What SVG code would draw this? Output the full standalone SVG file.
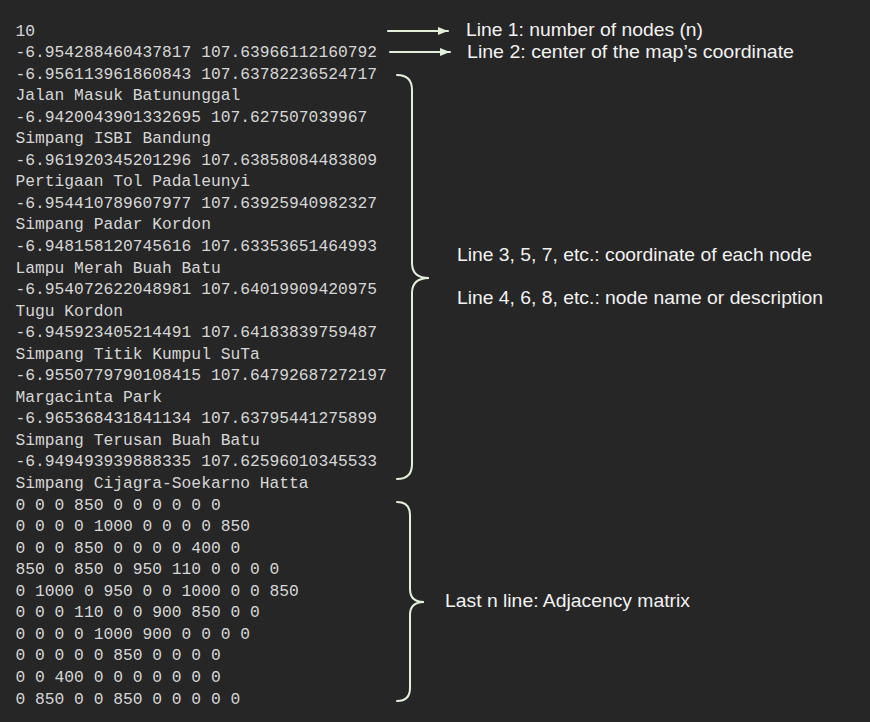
<svg xmlns="http://www.w3.org/2000/svg" width="870" height="722" viewBox="0 0 870 722">
<style>
.code{font-family:"Liberation Mono","DejaVu Sans Mono",monospace;font-size:16.3px;fill:#d6d6d6}
.note{font-family:"Liberation Sans","Open Sans",sans-serif;font-size:18.5px;fill:#f2f2f2}
.ln{fill:none;stroke:#e2f0d9;stroke-width:2;stroke-linecap:round}
</style>
<defs>
<marker id="ah" viewBox="0 0 10 8" refX="10" refY="4" markerWidth="10" markerHeight="8" markerUnits="userSpaceOnUse" orient="auto">
<path d="M0,0 L10,4 L0,8 Z" fill="#e2f0d9"/>
</marker>
</defs>
<rect width="870" height="722" fill="#262626"/>
<g id="file-text">
<text class="code" x="15.5" y="35.5">
<tspan x="15.5" dy="0">10</tspan>
<tspan x="15.5" dy="21.55">-6.954288460437817 107.63966112160792</tspan>
<tspan x="15.5" dy="21.55">-6.956113961860843 107.63782236524717</tspan>
<tspan x="15.5" dy="21.55">Jalan Masuk Batununggal</tspan>
<tspan x="15.5" dy="21.55">-6.9420043901332695 107.627507039967</tspan>
<tspan x="15.5" dy="21.55">Simpang ISBI Bandung</tspan>
<tspan x="15.5" dy="21.55">-6.961920345201296 107.63858084483809</tspan>
<tspan x="15.5" dy="21.55">Pertigaan Tol Padaleunyi</tspan>
<tspan x="15.5" dy="21.55">-6.954410789607977 107.63925940982327</tspan>
<tspan x="15.5" dy="21.55">Simpang Padar Kordon</tspan>
<tspan x="15.5" dy="21.55">-6.948158120745616 107.63353651464993</tspan>
<tspan x="15.5" dy="21.55">Lampu Merah Buah Batu</tspan>
<tspan x="15.5" dy="21.55">-6.954072622048981 107.64019909420975</tspan>
<tspan x="15.5" dy="21.55">Tugu Kordon</tspan>
<tspan x="15.5" dy="21.55">-6.945923405214491 107.64183839759487</tspan>
<tspan x="15.5" dy="21.55">Simpang Titik Kumpul SuTa</tspan>
<tspan x="15.5" dy="21.55">-6.9550779790108415 107.64792687272197</tspan>
<tspan x="15.5" dy="21.55">Margacinta Park</tspan>
<tspan x="15.5" dy="21.55">-6.965368431841134 107.63795441275899</tspan>
<tspan x="15.5" dy="21.55">Simpang Terusan Buah Batu</tspan>
<tspan x="15.5" dy="21.55">-6.949493939888335 107.62596010345533</tspan>
<tspan x="15.5" dy="21.55">Simpang Cijagra-Soekarno Hatta</tspan>
<tspan x="15.5" dy="21.55">0 0 0 850 0 0 0 0 0 0</tspan>
<tspan x="15.5" dy="21.55">0 0 0 0 1000 0 0 0 0 850</tspan>
<tspan x="15.5" dy="21.55">0 0 0 850 0 0 0 0 400 0</tspan>
<tspan x="15.5" dy="21.55">850 0 850 0 950 110 0 0 0 0</tspan>
<tspan x="15.5" dy="21.55">0 1000 0 950 0 0 1000 0 0 850</tspan>
<tspan x="15.5" dy="21.55">0 0 0 110 0 0 900 850 0 0</tspan>
<tspan x="15.5" dy="21.55">0 0 0 0 1000 900 0 0 0 0</tspan>
<tspan x="15.5" dy="21.55">0 0 0 0 0 850 0 0 0 0</tspan>
<tspan x="15.5" dy="21.55">0 0 400 0 0 0 0 0 0 0</tspan>
<tspan x="15.5" dy="21.55">0 850 0 0 850 0 0 0 0 0</tspan>
</text>
</g>
<g id="connectors">
<line class="ln" x1="388" y1="31" x2="448" y2="31" marker-end="url(#ah)"/>
<line class="ln" x1="390" y1="52" x2="450" y2="52" marker-end="url(#ah)"/>
<path class="ln" d="M397,75 Q412,75 412,90 L412,263 Q412,278 429,278 Q412,278 412,293 L412,464 Q412,479 397,479"/>
<path class="ln" d="M397,502 Q410,502 410,515 L410,589 Q410,602 424,602 Q410,602 410,615 L410,688 Q410,701 397,701"/>
</g>
<g id="labels">
<text class="note" x="466" y="36" textLength="237" lengthAdjust="spacingAndGlyphs">Line 1: number of nodes (n)</text>
<text class="note" x="467" y="58" textLength="327" lengthAdjust="spacingAndGlyphs">Line 2: center of the map’s coordinate</text>
<text class="note" x="457" y="261" textLength="355" lengthAdjust="spacingAndGlyphs">Line 3, 5, 7, etc.: coordinate of each node</text>
<text class="note" x="457" y="304" textLength="366" lengthAdjust="spacingAndGlyphs">Line 4, 6, 8, etc.: node name or description</text>
<text class="note" x="445" y="607" textLength="245" lengthAdjust="spacingAndGlyphs">Last n line: Adjacency matrix</text>
</g>
</svg>
